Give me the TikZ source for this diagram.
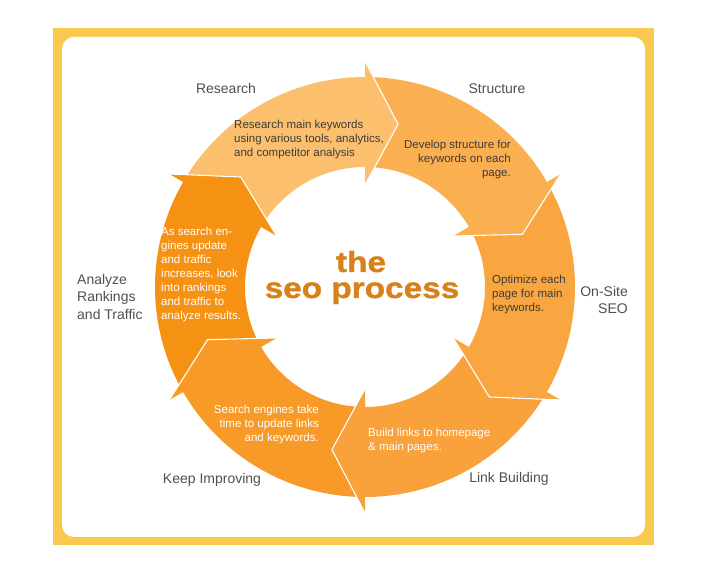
\documentclass[tikz,border=0pt]{standalone}
\usepackage{fontspec}
\setmainfont{Liberation Sans}
\newfontfamily\bigfont[FakeStretch=1.15,FakeBold=1.2]{Liberation Sans Bold}
\definecolor{frameY}{HTML}{F9C94F}
\definecolor{segA}{HTML}{FBBF6E}
\definecolor{segB}{HTML}{FAAF50}
\definecolor{segC}{HTML}{F9A640}
\definecolor{segD}{HTML}{F9A13A}
\definecolor{segE}{HTML}{F79A28}
\definecolor{segF}{HTML}{F59214}
\definecolor{darktxt}{HTML}{3C3C3C}
\definecolor{labeltxt}{HTML}{505050}
\definecolor{titleO}{HTML}{D8801A}
\tikzset{
  segtxt/.style={inner sep=0pt, font={\fontsize{11.5}{14}\selectfont}},
  lbl/.style={inner sep=0pt, text=labeltxt, font={\fontsize{14}{17.5}\selectfont}},
  ttl/.style={inner sep=0pt, anchor=base, text=titleO, font={\bigfont\fontsize{29}{25}\selectfont}}
}
\begin{document}
\begin{tikzpicture}[x=1pt,y=1pt]
\useasboundingbox (0,0) rectangle (711,569);
\fill[white] (0,0) rectangle (711,569);
\fill[frameY] (53,24) rectangle (654,541);
\fill[white, rounded corners=12pt] (62,32) rectangle (645,532);

\begin{scope}[shift={(365,282)}]
\foreach \b/\c in {90/segA, 30/segB, -30/segC, -90/segD, -150/segE, 150/segF} {
  \pgfmathsetmacro\t{\b+60}
  \pgfmathsetmacro\e{\b-1}
  \fill[\c] (\t:210pt) arc[start angle=\t, end angle=\e, radius=210pt]
     -- (\e:120pt) arc[start angle=\e, end angle=\t, radius=120pt] -- cycle;
}
\foreach \b/\c in {90/segA, 30/segB, -30/segC, -90/segD, -150/segE, 150/segF} {
  \pgfmathsetmacro\tp{\b-11.5}
  \fill[\c] (\b:226pt) -- (\tp:166pt) -- (\b:102pt) -- cycle;
  \draw[white, line width=1.1pt] (\b:226pt) -- (\tp:166pt) -- (\b:102pt);
}
\end{scope}

% texts inside segments
\node[segtxt, text=darktxt, anchor=west, align=left] (tResearch) at (234,429)
  {Research main keywords\\using various tools, analytics,\\and competitor analysis};
\node[segtxt, text=darktxt, anchor=east, align=right] (tStructure) at (511,409)
  {Develop structure for\\keywords on each\\page.};
\node[segtxt, text=darktxt, anchor=west, align=left] (tOnsite) at (492,274)
  {Optimize each\\page for main\\keywords.};
\node[segtxt, text=white, anchor=west, align=left] (tLink) at (368,128)
  {Build links to homepage\\\& main pages.};
\node[segtxt, text=white, anchor=east, align=right] (tKeep) at (319,144)
  {Search engines take\\time to update links\\and keywords.};
\node[segtxt, text=white, anchor=west, align=left] (tAnalyze) at (161,294)
  {As search en-\\gines update\\and traffic\\increases, look\\into rankings\\and traffic to\\analyze results.};

% outer labels
\node[lbl] (lResearch) at (226,480) {Research};
\node[lbl] (lStructure) at (497,480) {Structure};
\node[lbl, anchor=east, align=right] (lOnsite) at (628,269) {On-Site\\SEO};
\node[lbl] (lLink) at (509,90) {Link Building};
\node[lbl] (lKeep) at (212,89) {Keep Improving};
\node[lbl, anchor=west, align=left] (lAnalyze) at (77,272) {Analyze\\Rankings\\and Traffic};

% title
\node[ttl] (tThe) at (361,297) {the};
\node[ttl] (tSeo) at (362,271) {seo process};
\end{tikzpicture}
\end{document}
